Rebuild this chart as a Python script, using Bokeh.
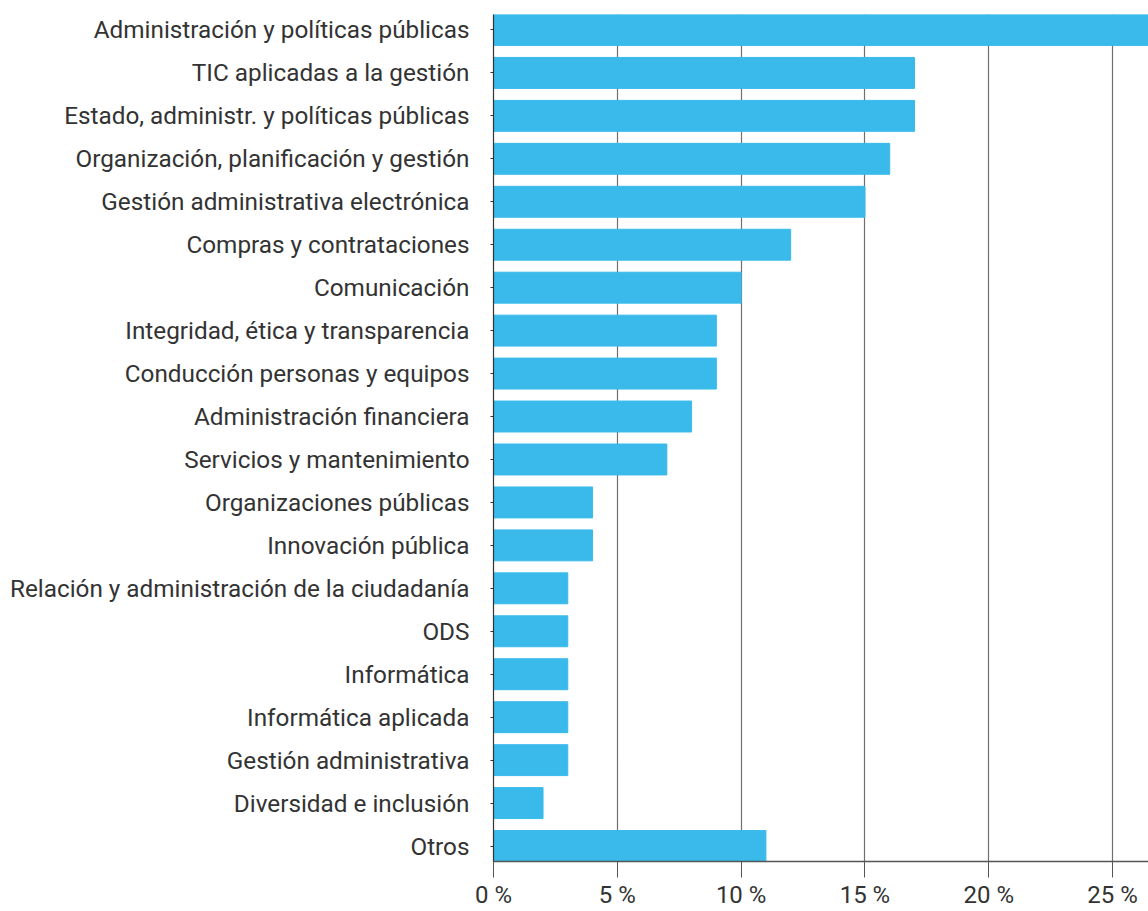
from bokeh.plotting import figure
from bokeh.models import Range1d, FixedTicker, ColumnDataSource
from bokeh.embed import file_html
from bokeh.resources import INLINE

categories = [
    "Administración y políticas públicas",
    "TIC aplicadas a la gestión",
    "Estado, administr. y políticas públicas",
    "Organización, planificación y gestión",
    "Gestión administrativa electrónica",
    "Compras y contrataciones",
    "Comunicación",
    "Integridad, ética y transparencia",
    "Conducción personas y equipos",
    "Administración financiera",
    "Servicios y mantenimiento",
    "Organizaciones públicas",
    "Innovación pública",
    "Relación y administración de la ciudadanía",
    "ODS",
    "Informática",
    "Informática aplicada",
    "Gestión administrativa",
    "Diversidad e inclusión",
    "Otros",
]
values = [27, 17, 17, 16, 15, 12, 10, 9, 9, 8, 7, 4, 4, 3, 3, 3, 3, 3, 2, 11]
xticks = [0, 5, 10, 15, 20, 25]
xtick_labels = ["0 %", "5 %", "10 %", "15 %", "20 %", "25 %"]

n = len(categories)
ypos = [n - 1 - i for i in range(n)]
src = ColumnDataSource(dict(y=ypos, v=values, cat=categories))

p = figure(width=1148, height=911,
           x_range=Range1d(0, 26.45), y_range=Range1d(-0.36, n - 1 + 0.36),
           output_backend="svg", toolbar_location=None,
           min_border_left=493, min_border_right=0, min_border_top=14, min_border_bottom=49)
p.outline_line_color = None
p.background_fill_color = "white"
p.border_fill_color = "white"

p.hbar(y="y", left=0, right="v", height=0.72, color="#39BAEB", source=src)

# x axis
p.xaxis.ticker = FixedTicker(ticks=xticks)
p.xaxis.major_label_overrides = {t: l for t, l in zip(xticks, xtick_labels)}
p.xaxis.axis_line_color = "#555555"
p.xaxis.axis_line_width = 1.5
p.xaxis.major_tick_line_color = "#555555"
p.xaxis.major_tick_out = 16
p.xaxis.major_tick_in = 0
p.xaxis.minor_tick_line_color = None
p.xaxis.major_label_standoff = 3
p.xaxis.major_label_text_font = "Roboto"
p.xaxis.major_label_text_font_size = "24px"
p.xaxis.major_label_text_color = "#333333"

# y axis
p.yaxis.ticker = FixedTicker(ticks=ypos)
p.yaxis.major_label_overrides = {y: c for y, c in zip(ypos, categories)}
p.yaxis.axis_line_color = "#333333"
p.yaxis.axis_line_width = 1.2
p.yaxis.major_tick_line_color = "#333333"
p.yaxis.major_tick_out = 3
p.yaxis.major_tick_in = 0
p.yaxis.minor_tick_line_color = None
p.yaxis.major_label_standoff = 21
p.yaxis.major_label_text_font = "Roboto"
p.yaxis.major_label_text_font_size = "24.3px"
p.yaxis.major_label_text_color = "#333333"

# grid
p.ygrid.visible = False
p.xgrid.ticker = FixedTicker(ticks=xticks)
p.xgrid.grid_line_color = "#6f6f6f"
p.xgrid.grid_line_width = 1.2

open("out.html", "w").write(file_html(p, INLINE))
